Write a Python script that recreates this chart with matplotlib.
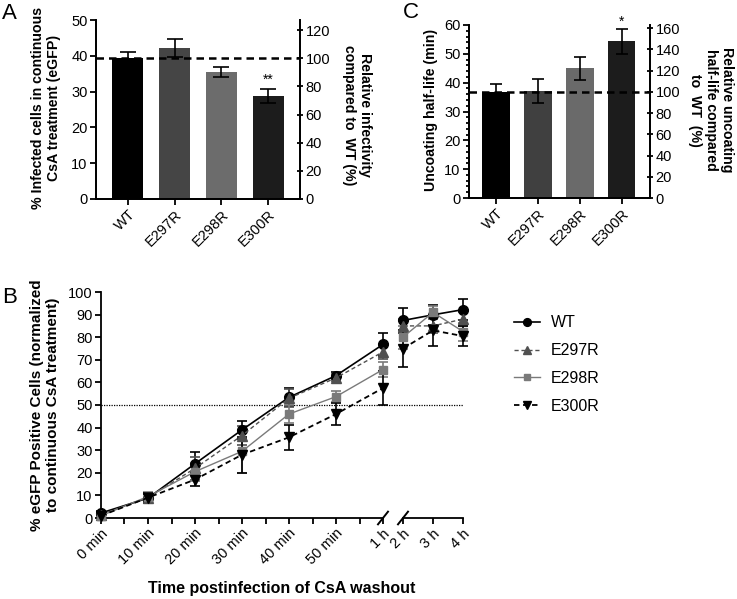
import matplotlib
matplotlib.use("Agg")
import matplotlib.pyplot as plt
from matplotlib.ticker import MultipleLocator

plt.rcParams['font.family'] = ['Liberation Sans', 'DejaVu Sans']
plt.rcParams['font.size'] = 10.5
plt.rcParams['axes.linewidth'] = 1.3
plt.rcParams['xtick.major.width'] = 1.3
plt.rcParams['ytick.major.width'] = 1.3
plt.rcParams['xtick.minor.width'] = 1.3
plt.rcParams['ytick.minor.width'] = 1.3

# Data
mutants = ['WT', 'E297R', 'E298R', 'E300R']

# Panel A: % infected cells in continuous CsA
infected = [39.3, 42.2, 35.6, 28.8]
infected_err = [1.9, 2.4, 1.4, 2.0]
infected_colors = ['#000000', '#454545', '#6c6c6c', '#1c1c1c']

# Panel C: uncoating half-life (min)
halflife = [36.8, 37.2, 45.0, 54.3]
halflife_err = [2.7, 4.2, 4.0, 4.2]
halflife_colors = ['#000000', '#404040', '#6a6a6a', '#1c1c1c']

# Panel B: time course
t_min = [0, 10, 20, 30, 40, 50, 60]
t_min_labels = ['0 min', '10 min', '20 min', '30 min', '40 min', '50 min', '1 h']
t_h = [2, 3, 4]
t_h_labels = ['2 h', '3 h', '4 h']

wt_vals = [2.2, 8.8, 24.0, 39.0, 53.4, 63.0, 76.8, 87.4, 89.9, 92.2]
wt_err = [1.0, 2.0, 5.0, 4.0, 4.0, 1.5, 5.0, 5.5, 4.5, 4.5]
e297_vals = [1.5, 9.0, 22.0, 36.5, 53.0, 62.0, 73.5, 85.0, 85.0, 88.0]
e297_err = [1.0, 2.0, 5.0, 4.0, 4.0, 1.5, 3.0, 3.0, 3.0, 3.0]
e298_vals = [1.0, 9.5, 20.5, 29.5, 46.0, 53.7, 65.7, 80.0, 91.0, 82.5]
e298_err = [1.0, 2.0, 4.0, 9.5, 4.0, 2.5, 3.5, 5.0, 3.0, 4.0]
e300_vals = [1.0, 9.0, 17.0, 28.0, 35.7, 46.0, 57.5, 75.0, 83.0, 80.5]
e300_err = [1.0, 2.0, 3.0, 8.0, 5.5, 5.0, 7.5, 8.0, 7.0, 4.5]

series = [
    ('WT', wt_vals, wt_err, '#000000', 'o', '-', 1.2, 7),
    ('E297R', e297_vals, e297_err, '#505050', '^', (0, (3, 2)), 1.0, 6.5),
    ('E298R', e298_vals, e298_err, '#7a7a7a', 's', '-', 1.0, 6),
    ('E300R', e300_vals, e300_err, '#000000', 'v', (0, (3, 2)), 1.3, 6.5),
]

W, H = 737, 599
fig = plt.figure(figsize=(W / 100, H / 100), dpi=100)


def frac(left, top, right, bottom):
    return [left / W, 1 - bottom / H, (right - left) / W, (bottom - top) / H]


def bar_panel(rect, vals, errs, colors, ymax, ystep, rstep, xlim, capsize, minor=None):
    ax = fig.add_axes(rect)
    x = range(len(vals))
    ax.bar(x, vals, width=0.66, color=colors, zorder=2)
    ax.errorbar(x, vals, yerr=errs, fmt='none', ecolor='black', elinewidth=1.2,
                capsize=capsize, capthick=1.2, zorder=3)
    ax.axhline(vals[0], color='black', ls=(0, (3, 2)), lw=1.8, zorder=4)
    ax.set_xlim(*xlim)
    ax.set_ylim(0, ymax)
    ax.yaxis.set_major_locator(MultipleLocator(ystep))
    if minor:
        ax.yaxis.set_minor_locator(MultipleLocator(minor))
        ax.tick_params(axis='y', which='minor', length=2.5)
    ax.set_xticks(list(x))
    ax.set_xticklabels(mutants, rotation=45, ha='right', rotation_mode='anchor')
    ax.tick_params(axis='both', which='major', length=4, direction='out', pad=2)
    ax.spines['top'].set_visible(False)
    axr = ax.twinx()
    axr.set_ylim(0, ymax * 100 / vals[0])
    axr.yaxis.set_major_locator(MultipleLocator(rstep))
    axr.tick_params(axis='y', length=4, pad=2, direction='inout')
    axr.spines['top'].set_visible(False)
    return ax


axA = bar_panel(frac(96, 20, 300, 199), infected, infected_err, infected_colors,
                50, 10, 20, (-0.68, 3.68), 5.5)
axA.text(3, infected[3] + infected_err[3] + 0.6, '**', ha='center', va='bottom', fontsize=10)

axC = bar_panel(frac(469, 25, 650, 198), halflife, halflife_err, halflife_colors,
                60, 10, 20, (-0.65, 3.68), 4.5, minor=2)
axC.text(3, halflife[3] + halflife_err[3] + 0.3, '*', ha='center', va='bottom', fontsize=10)

# Panel B: broken x axis
ax1 = fig.add_axes(frac(101, 292, 383, 518))
ax2 = fig.add_axes(frac(403, 292, 463, 518), sharey=ax1)
ax2.patch.set_visible(False)
n1 = len(t_min)
legend_lines = []
for name, vals, err, col, mk, ls, lw, ms in series:
    for ax, xs, v, e in ((ax1, t_min, vals[:n1], err[:n1]), (ax2, t_h, vals[n1:], err[n1:])):
        cont = ax.errorbar(xs, v, yerr=e, color=col, ecolor=col, marker=mk, ms=ms, ls=ls, lw=lw,
                           elinewidth=1.2, capsize=3.5, capthick=1.2, clip_on=False, zorder=3)
        if ax is ax1:
            legend_lines.append(cont[0])

# dotted 50% line spanning both segments
ax1.plot([0, (463 - 101) / (383 - 101)], [50, 50], transform=ax1.get_yaxis_transform(),
         color='black', ls=(0, (1, 1)), lw=0.9, zorder=1, clip_on=False)

for ax in (ax1, ax2):
    ax.spines['top'].set_visible(False)
    ax.spines['right'].set_visible(False)
    ax.tick_params(axis='both', which='major', length=4, direction='out', pad=2)

ax1.set_xlim(0, 60)
ax1.set_ylim(0, 100)
ax1.yaxis.set_major_locator(MultipleLocator(10))
ax1.set_xticks(t_min)
ax1.set_xticklabels(t_min_labels, rotation=45, ha='right', rotation_mode='anchor')
ax1.xaxis.set_minor_locator(MultipleLocator(5))
ax1.tick_params(axis='x', which='minor', length=4)

ax2.set_xlim(2, 4)
ax2.set_xticks(t_h)
ax2.set_xticklabels(t_h_labels, rotation=45, ha='right', rotation_mode='anchor')
ax2.spines['left'].set_visible(False)
ax2.tick_params(axis='y', left=False, labelleft=False)

# break marks
for ax, xpos in ((ax1, 1.0), (ax2, 0.0)):
    dx = 5 / (ax.get_position().width * W)
    ax.plot([xpos - dx, xpos + dx], [-0.028, 0.028], transform=ax.transAxes,
            color='black', lw=1.4, clip_on=False)

fig.legend(legend_lines, [s[0] for s in series], loc='upper left',
           bbox_to_anchor=(508 / W, 1 - 309 / H), markerscale=0.8,
           frameon=False, fontsize=11.5, handlelength=1.6, labelspacing=0.8,
           handletextpad=0.7, borderaxespad=0)

# Axis labels
fig.text(46 / W, 1 - 108 / H, '% Infected cells in continuous\nCsA treatment (eGFP)',
         rotation=90, ha='center', va='center', fontweight='bold', fontsize=10.2)
fig.text(357 / W, 1 - 115 / H, 'Relative infectivity\ncompared to  WT (%)',
         rotation=270, ha='center', va='center', fontweight='bold', fontsize=10.2)
fig.text(431 / W, 1 - 110 / H, 'Uncoating half-life (min)',
         rotation=90, ha='center', va='center', fontweight='bold', fontsize=10.2)
fig.text(711 / W, 1 - 110 / H, 'Relative uncoating\nhalf-life compared\nto  WT  (%)',
         rotation=270, ha='center', va='center', fontweight='bold', fontsize=10.2)
fig.text(45 / W, 1 - 405 / H, '% eGFP Positive Cells (normalized\nto continuous CsA treatment)',
         rotation=90, ha='center', va='center', fontweight='bold', fontsize=11)
fig.text(282 / W, 1 - 588 / H, 'Time postinfection of CsA washout',
         ha='center', va='center', fontweight='bold', fontsize=11.5)

# Panel letters
fig.text(2 / W, 1 - 3 / H, 'A', ha='left', va='top', fontsize=16)
fig.text(2 / W, 1 - 287 / H, 'B', ha='left', va='top', fontsize=16)
fig.text(403 / W, 1 - 2 / H, 'C', ha='left', va='top', fontsize=16)

fig.savefig('out.png', dpi=100)
